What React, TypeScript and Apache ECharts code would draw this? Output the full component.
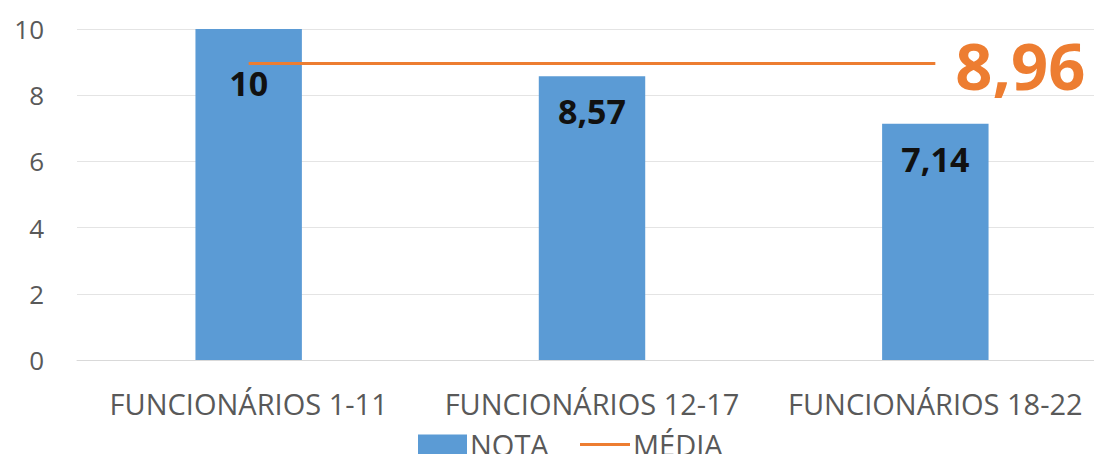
import React, { useEffect, useRef } from "react";
import * as echarts from "echarts";

// Grupos de funcionários e notas obtidas
const categories = ["FUNCIONÁRIOS 1-11", "FUNCIONÁRIOS 12-17", "FUNCIONÁRIOS 18-22"];
const notaValues = [10, 8.57, 7.14];
const mediaValue = 8.96;
const mediaValues = categories.map(() => mediaValue);

const BLUE = "#5B9BD5";
const ORANGE = "#ED7D31";
const GRAY = "#595959";
const FONT = "'Open Sans', sans-serif";

const fmt = (v: number) => String(v).replace(".", ",");

const legendText = { fontFamily: FONT, fontSize: 29, color: GRAY, padding: [0, 0, 0, -2] };

export default function App() {
  const ref = useRef<HTMLDivElement>(null);

  useEffect(() => {
    if (!ref.current) return;
    const chart = echarts.init(ref.current, null, { renderer: "svg" });
    chart.setOption({
      animation: false,
      textStyle: { fontFamily: FONT },
      grid: {
        left: 77,
        width: 1030,
        top: 29,
        height: 331,
        containLabel: false,
        outerBoundsMode: "none",
      },
      legend: [
        {
          left: 413,
          top: 425,
          itemWidth: 49,
          itemHeight: 20,
          icon: "rect",
          textStyle: legendText,
          data: ["NOTA"],
        },
        {
          left: 575,
          top: 425,
          itemWidth: 50,
          itemHeight: 3,
          icon: "rect",
          textStyle: legendText,
          data: ["MÉDIA"],
        },
      ],
      xAxis: {
        type: "category",
        data: categories,
        axisLine: { lineStyle: { color: "#d9d9d9", width: 1 } },
        axisTick: { show: false },
        axisLabel: { color: GRAY, fontSize: 29, fontFamily: FONT, margin: 29, interval: 0 },
      },
      yAxis: {
        type: "value",
        min: 0,
        max: 10,
        interval: 2,
        axisLine: { show: false },
        axisTick: { show: false },
        axisLabel: { color: GRAY, fontSize: 26, fontFamily: FONT, margin: 33 },
        splitLine: { lineStyle: { color: "#e4e4e4", width: 1 } },
      },
      series: [
        {
          name: "NOTA",
          type: "bar",
          barWidth: "31%",
          itemStyle: { color: BLUE },
          data: notaValues.map((v, i) => ({
            value: v,
            label: { distance: i === 0 ? 37 : 18 },
          })),
          label: {
            show: true,
            position: "insideTop",
            color: "#111",
            fontWeight: "bold",
            fontSize: 34,
            fontFamily: FONT,
            formatter: (p: any) => fmt(p.value),
          },
          z: 1,
        },
        {
          name: "MÉDIA",
          type: "line",
          data: mediaValues,
          symbol: "none",
          lineStyle: { color: ORANGE, width: 3 },
          itemStyle: { color: ORANGE },
          endLabel: {
            show: true,
            distance: 20,
            offset: [0, 2],
            color: ORANGE,
            fontWeight: "bold",
            fontSize: 65,
            fontFamily: FONT,
            formatter: (p: any) => fmt(p.value),
          },
          z: 3,
        },
      ],
    });
    return () => chart.dispose();
  }, []);

  return (
    <div
      ref={ref}
      style={{ position: "fixed", left: 0, top: 0, width: 1094, height: 454, background: "#fff" }}
    />
  );
}
